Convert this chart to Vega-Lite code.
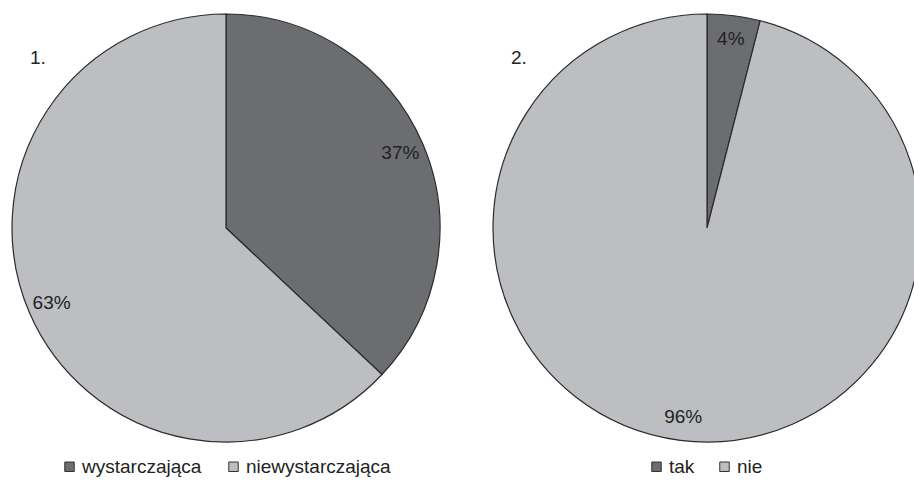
{
  "$schema": "https://vega.github.io/schema/vega-lite/v6.json",
  "width": 914,
  "height": 456,
  "autosize": {"type": "none"},
  "padding": {"left": 0, "top": 0, "right": 0, "bottom": 26},
  "background": "white",
  "datasets": {
    "pie": [
      {"chart": 1, "category": "wystarczająca", "value": 37, "order": 1, "label": "37%"},
      {"chart": 1, "category": "niewystarczająca", "value": 63, "order": 2, "label": "63%"},
      {"chart": 2, "category": "tak", "value": 4, "order": 1, "label": "4%"},
      {"chart": 2, "category": "nie", "value": 96, "order": 2, "label": "96%"}
    ],
    "titles": [
      {"chart": 1, "title": "1."},
      {"chart": 2, "title": "2."}
    ]
  },
  "layer": [
    {
      "data": {"name": "pie"},
      "transform": [{"filter": "datum.chart == 1"}],
      "encoding": {
        "x": {"field": "chart", "type": "ordinal", "axis": null,
              "scale": {"type": "point", "domain": [1, 2], "range": [226, 707], "padding": 0}},
        "theta": {"field": "value", "type": "quantitative", "stack": true},
        "order": {"field": "order", "type": "quantitative"}
      },
      "layer": [
        {
          "mark": {"type": "arc", "radius": 214, "stroke": "#2a2a2a", "strokeWidth": 1.2},
          "encoding": {
            "color": {"field": "category", "type": "nominal",
              "scale": {"domain": ["wystarczająca", "niewystarczająca"], "range": ["#6c6d71", "#bdbec2"]},
              "legend": {"orient": "none", "legendX": 60, "legendY": 457, "direction": "horizontal", "title": null, "columnPadding": 22}}
          }
        },
        {
          "mark": {"type": "text", "radius": 190, "font": "Liberation Sans", "fontSize": 19, "color": "#222222"},
          "encoding": {"text": {"field": "label"}}
        }
      ]
    },
    {
      "data": {"name": "pie"},
      "transform": [{"filter": "datum.chart == 2"}],
      "encoding": {
        "x": {"field": "chart", "type": "ordinal", "axis": null,
              "scale": {"type": "point", "domain": [1, 2], "range": [226, 707], "padding": 0}},
        "theta": {"field": "value", "type": "quantitative", "stack": true},
        "order": {"field": "order", "type": "quantitative"}
      },
      "layer": [
        {
          "mark": {"type": "arc", "radius": 214, "stroke": "#2a2a2a", "strokeWidth": 1.2},
          "encoding": {
            "color": {"field": "category", "type": "nominal",
              "scale": {"domain": ["tak", "nie"], "range": ["#6c6d71", "#bdbec2"]},
              "legend": {"orient": "none", "legendX": 647, "legendY": 457, "direction": "horizontal", "title": null, "columnPadding": 20}}
          }
        },
        {
          "mark": {"type": "text", "radius": 190, "font": "Liberation Sans", "fontSize": 19, "color": "#222222"},
          "encoding": {"text": {"field": "label"}}
        }
      ]
    },
    {
      "data": {"name": "titles"},
      "mark": {"type": "text", "align": "left", "baseline": "middle", "dx": -196, "dy": -170,
               "font": "Liberation Sans", "fontSize": 19, "color": "#222222"},
      "encoding": {
        "x": {"field": "chart", "type": "ordinal", "axis": null,
              "scale": {"type": "point", "domain": [1, 2], "range": [226, 707], "padding": 0}},
        "text": {"field": "title"}
      }
    }
  ],
  "resolve": {"scale": {"color": "independent"}},
  "config": {
    "view": {"stroke": null},
    "legend": {
      "symbolType": "square",
      "symbolSize": 90,
      "symbolStrokeColor": "#333333",
      "symbolStrokeWidth": 1,
      "symbolOpacity": 1,
      "labelFont": "Liberation Sans",
      "labelFontSize": 19,
      "labelColor": "#222222",
      "labelOffset": 3,
      "padding": 0
    }
  }
}
